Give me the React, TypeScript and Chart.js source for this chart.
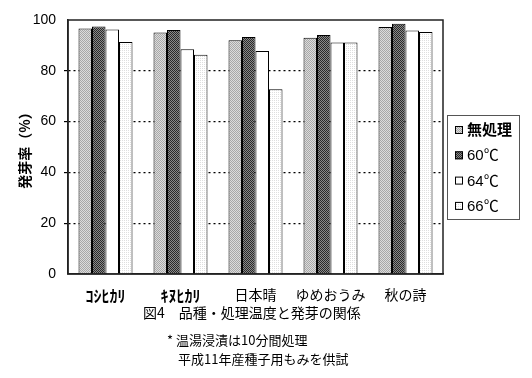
import React, { useEffect, useRef } from "react";
import { Chart, registerables } from "chart.js";

Chart.register(...registerables);

const categories = ["ｺｼﾋｶﾘ", "ｷﾇﾋｶﾘ", "日本晴", "ゆめおうみ", "秋の詩"];
const seriesNames = ["無処理", "60℃", "64℃", "66℃"];
const untreated = [96.7, 95.1, 92.0, 93.0, 97.2];
const t60 = [97.4, 96.1, 93.3, 94.1, 98.5];
const t64 = [96.3, 88.5, 87.8, 91.1, 95.9];
const t66 = [91.3, 86.3, 72.7, 91.1, 95.3];
const yTicks = [0, 20, 40, 60, 80, 100];
const yTitle = "発芽率（%）";
const caption = "図4　品種・処理温度と発芽の関係";
const notes = ["* 温湯浸漬は10分間処理", "平成11年産種子用もみを供試"];

const FONT = "'Liberation Sans', 'Noto Sans CJK JP', sans-serif";
const JFONT = "'Noto Sans CJK JP', sans-serif";

function makePattern(kind: string): CanvasPattern | string {
  const c = document.createElement("canvas");
  c.width = 2;
  c.height = 2;
  const x = c.getContext("2d")!;
  if (kind === "light") {
    x.fillStyle = "#dcdcdc";
    x.fillRect(0, 0, 2, 2);
    x.fillStyle = "#a8a8a8";
    x.fillRect(0, 0, 1, 1);
    x.fillRect(1, 1, 1, 1);
  } else if (kind === "dark") {
    x.fillStyle = "#8a8a8a";
    x.fillRect(0, 0, 2, 2);
    x.fillStyle = "#2a2a2a";
    x.fillRect(0, 0, 1, 1);
    x.fillRect(1, 1, 1, 1);
  } else if (kind === "faint") {
    x.fillStyle = "#ffffff";
    x.fillRect(0, 0, 2, 2);
    x.fillStyle = "#dedede";
    x.fillRect(0, 0, 1, 1);
  } else {
    return "#ffffff";
  }
  return x.createPattern(c, "repeat")!;
}

export default function App() {
  const ref = useRef<HTMLCanvasElement>(null);
  useEffect(() => {
    document.body.style.margin = "0";
    const canvas = ref.current!;
    const fills = [makePattern("light"), makePattern("dark"), makePattern("white"), makePattern("faint")];
    const values = [untreated, t60, t64, t66];

    const deco = {
      id: "deco",
      afterDraw(chart: any) {
        const ctx = chart.ctx as CanvasRenderingContext2D;
        const a = chart.chartArea;
        ctx.save();
        // plot border
        ctx.strokeStyle = "#222";
        ctx.lineWidth = 1.5;
        ctx.strokeRect(a.left, a.top, a.right - a.left, a.bottom - a.top);
        // legend
        const lx = a.right + 4;
        const ly = 115;
        ctx.fillStyle = "#fff";
        ctx.fillRect(lx, ly, 72, 104);
        ctx.strokeStyle = "#555";
        ctx.lineWidth = 1;
        ctx.strokeRect(lx + 0.5, ly + 0.5, 72, 104);
        seriesNames.forEach((n, i) => {
          const cy = 130 + i * 25.3;
          ctx.fillStyle = fills[i] as any;
          ctx.fillRect(lx + 8, cy - 4, 8, 8);
          ctx.strokeStyle = "#000";
          ctx.lineWidth = 1;
          ctx.strokeRect(lx + 8.5, cy - 3.5, 7, 7);
          ctx.fillStyle = "#000";
          ctx.textBaseline = "middle";
          ctx.textAlign = "left";
          ctx.font = i === 0 ? `bold 15px ${FONT}` : `15px ${FONT}`;
          ctx.fillText(n, lx + 20, cy + 1);
        });
        // caption and notes
        ctx.fillStyle = "#000";
        ctx.textAlign = "left";
        ctx.textBaseline = "middle";
        ctx.font = `14px ${JFONT}`;
        ctx.fillText(caption, 143, 313);
        ctx.font = `13px ${JFONT}`;
        ctx.fillText(notes[0], 167, 340);
        ctx.fillText(notes[1], 178, 359);
        ctx.restore();
      },
    };

    const chart = new Chart(canvas, {
      type: "bar",
      data: {
        labels: categories,
        datasets: seriesNames.map((n, i) => ({
          label: n,
          data: values[i],
          backgroundColor: fills[i] as any,
          borderColor: "#000",
          borderWidth: 1,
          barPercentage: 1,
          categoryPercentage: 0.72,
        })),
      },
      options: {
        responsive: false,
        animation: false,
        layout: { padding: { top: 20, right: 89, left: 0, bottom: 0 } },
        plugins: { legend: { display: false }, tooltip: { enabled: false } },
        scales: {
          x: {
            grid: { display: false },
            border: { display: true, color: "#222", width: 1.5 },
            ticks: {
              color: "#000",
              font: (c: any) =>
                c.index < 2
                  ? { family: JFONT, size: 16, weight: "bold" }
                  : { family: JFONT, size: 14 },
              padding: 4,
              maxRotation: 0,
              autoSkip: false,
            },
            afterFit: (s: any) => {
              s.height = 104;
            },
          },
          y: {
            min: 0,
            max: 100,
            afterBuildTicks: (s: any) => {
              s.ticks = yTicks.map((v) => ({ value: v }));
            },
            grid: {
              color: (c: any) => (c.tick && (c.tick.value === 0 || c.tick.value === 100) ? "rgba(0,0,0,0)" : "#000"),
              lineWidth: 1.2,
              tickLength: 4,
              drawTicks: true,
            },
            border: { display: true, color: "#222", width: 1.5, dash: [2, 3] as any },
            ticks: { color: "#000", font: { family: FONT, size: 14 }, padding: 8 },
            title: {
              display: true,
              text: yTitle,
              color: "#000",
              font: { family: JFONT, size: 14, weight: "bold" },
              padding: { top: 16, bottom: 0 },
            },
            afterFit: (s: any) => {
              s.width = 68;
            },
          },
        },
      },
      plugins: [deco],
    } as any);
    return () => chart.destroy();
  }, []);
  return <canvas ref={ref} width={532} height={378} style={{ display: "block" }} />;
}
